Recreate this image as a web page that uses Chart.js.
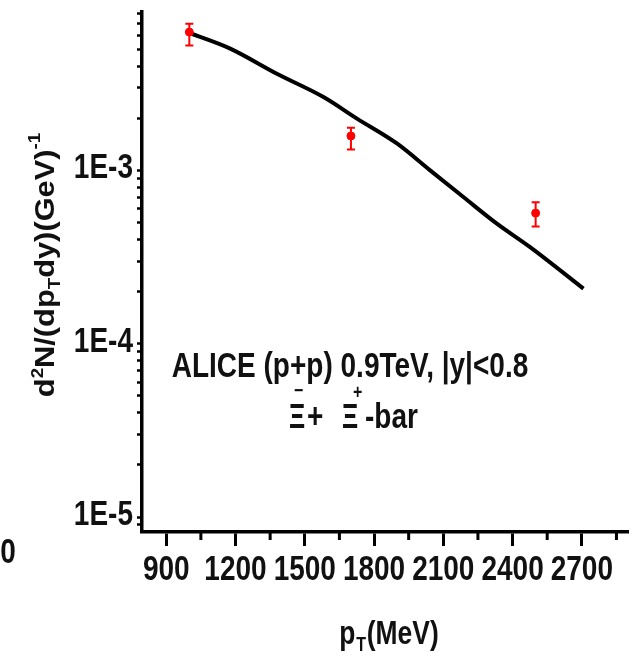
<!DOCTYPE html>
<html>
<head>
<meta charset="utf-8">
<script src="https://cdn.jsdelivr.net/npm/chart.js@4.4.1/dist/chart.umd.min.js"></script>
<style>
    html, body { margin: 0; padding: 0; background: #fff; }
    canvas { display: block; }
</style>
</head>
<body>
<canvas id="spectrumChart" width="634" height="658"></canvas>
<script>
// ALICE data points (pT in MeV) with upper / lower error bounds
const dataMeV = [1000, 1700, 2500];
const dataYield = [6.28e-3, 1.58e-3, 5.67e-4];
const dataErrHigh = [7.02e-3, 1.76e-3, 6.56e-4];
const dataErrLow = [5.26e-3, 1.32e-3, 4.75e-4];

// Model curve
const curveMeV = [1000, 1177, 1379, 1581, 1726, 1899, 2043, 2187, 2332, 2476, 2707];
const curveYield = [6.21e-3, 5.04e-3, 3.61e-3, 2.65e-3, 1.99e-3, 1.43e-3, 1.0e-3, 7.02e-4, 4.93e-4, 3.61e-4, 2.08e-4];

// Axis ticks
const xTickLabels = [900, 1200, 1500, 1800, 2100, 2400, 2700];
const xMinorTicks = [1050, 1350, 1650, 1950, 2250, 2550, 2850];
const yTickValues = [1e-3, 1e-4, 1e-5];
const yTickLabels = ["1E-3", "1E-4", "1E-5"];

// Arial-style bold squeezed horizontally to look like a narrow face
const FACE = "'Liberation Sans', Arial, sans-serif";
const SQUEEZE = 0.8;
const INK = "#111";

document.addEventListener("DOMContentLoaded", () => {
    const ctx = document.getElementById("spectrumChart");

    // Draws a run of text pieces (with sub/superscripts) on a baseline.
    // align: 0 = left edge at x, 0.5 = centred, 1 = right edge at x
    function drawPieces(c, pieces, x, y, align, sx) {
        c.save();
        c.translate(x, y);
        c.scale(sx, 1);
        let total = 0;
        pieces.forEach((p) => {
            c.font = p.font;
            p.w = c.measureText(p.t).width;
            total += p.w + (p.gap || 0);
        });
        let px = -total * align;
        pieces.forEach((p) => {
            c.font = p.font;
            c.fillText(p.t, px, p.dy || 0);
            px += p.w + (p.gap || 0);
        });
        c.restore();
    }

    const big = "bold 35px " + FACE;
    const mid = "bold 33px " + FACE;
    const small = "bold 20px " + FACE;

    const extrasPlugin = {
        id: "extras",
        afterDatasetsDraw(chart) {
            const c = chart.ctx;
            const xs = chart.scales.x;
            const ys = chart.scales.y;

            // error bars
            c.save();
            c.strokeStyle = "#ff0000";
            c.lineWidth = 2;
            dataMeV.forEach((v, i) => {
                const px = xs.getPixelForValue(v);
                const top = ys.getPixelForValue(dataErrHigh[i]);
                const bot = ys.getPixelForValue(dataErrLow[i]);
                c.beginPath();
                c.moveTo(px, top);
                c.lineTo(px, bot);
                c.moveTo(px - 4, top);
                c.lineTo(px + 4, top);
                c.moveTo(px - 4, bot);
                c.lineTo(px + 4, bot);
                c.stroke();
            });
            c.restore();
        },
        afterDraw(chart) {
            const c = chart.ctx;
            const xs = chart.scales.x;
            const ys = chart.scales.y;
            const area = chart.chartArea;

            // short minor ticks on the x axis
            c.save();
            c.strokeStyle = "#000";
            c.lineWidth = 3;
            xMinorTicks.forEach((v) => {
                const px = xs.getPixelForValue(v);
                c.beginPath();
                c.moveTo(px, area.bottom);
                c.lineTo(px, area.bottom + 8);
                c.stroke();
            });
            c.restore();

            c.save();
            c.fillStyle = INK;
            c.textBaseline = "alphabetic";
            c.textAlign = "left";

            // tick labels
            xTickLabels.forEach((v) => {
                drawPieces(c, [{ t: String(v), font: big }], xs.getPixelForValue(v), area.bottom + 48, 0.5, SQUEEZE);
            });
            yTickValues.forEach((v, i) => {
                drawPieces(c, [{ t: yTickLabels[i], font: big }], area.left - 9, ys.getPixelForValue(v) + 8, 1, SQUEEZE);
            });

            // annotation
            drawPieces(c, [{ t: "ALICE (p+p) 0.9TeV, |y|<0.8", font: big }], 350, 377, 0.5, SQUEEZE);
            drawPieces(c, [{ t: "\u039E", font: big }], 289, 428, 0, 0.72);
            drawPieces(c, [{ t: "\u2212", font: small }], 294, 397, 0, SQUEEZE);
            drawPieces(c, [{ t: "+", font: big }], 307, 428, 0, SQUEEZE);
            drawPieces(c, [{ t: "\u039E", font: big }], 342, 428, 0, 0.72);
            drawPieces(c, [{ t: "+", font: small }], 353, 399, 0, SQUEEZE);
            drawPieces(c, [{ t: "-bar", font: big }], 365, 428, 0, SQUEEZE);

            // x title
            drawPieces(c, [
                { t: "p", font: mid, gap: 1 },
                { t: "T", font: small, dy: 7, gap: 1 },
                { t: "(MeV)", font: mid },
            ], 389, 644, 0.5, SQUEEZE);

            // stray axis label at left
            drawPieces(c, [{ t: "0", font: big }], 8, 563, 0.5, SQUEEZE);

            // y title, rotated
            const ttl = "bold 28px " + FACE;
            const sub = "bold 17px " + FACE;
            c.translate(54, 265);
            c.rotate(-Math.PI / 2);
            drawPieces(c, [
                { t: "d", font: ttl },
                { t: "2", font: sub, dy: -11 },
                { t: "N/(dp", font: ttl },
                { t: "T", font: sub, dy: 6 },
                { t: "dy)(GeV)", font: ttl },
                { t: "-1", font: sub, dy: -14 },
            ], 0, 0, 0.5, 1.1);
            c.restore();
        },
    };

    const data = {
        datasets: [
            {
                label: "data",
                data: dataMeV.map((x, i) => ({ x, y: dataYield[i] })),
                backgroundColor: "#ff0000",
                borderColor: "#ff0000",
                pointRadius: 4,
                showLine: false,
                order: 0,
            },
            {
                label: "model",
                data: curveMeV.map((x, i) => ({ x, y: curveYield[i] })),
                borderColor: "#000",
                borderWidth: 4,
                pointRadius: 0,
                showLine: true,
                cubicInterpolationMode: "monotone",
                order: 1,
            },
        ],
    };

    const config = {
        type: "scatter",
        data,
        plugins: [extrasPlugin],
        options: {
            responsive: false,
            animation: false,
            devicePixelRatio: 1,
            layout: { padding: { top: 12, right: 6, left: 0, bottom: 0 } },
            plugins: { legend: { display: false }, tooltip: { enabled: false } },
            scales: {
                x: {
                    type: "linear",
                    min: 795,
                    max: 2900,
                    afterBuildTicks: (s) => {
                        s.ticks = xTickLabels.map((v) => ({ value: v }));
                    },
                    afterFit: (s) => { s.height = 126; },
                    ticks: { display: false },
                    grid: {
                        drawOnChartArea: false,
                        drawTicks: true,
                        tickLength: 14,
                        tickWidth: 3,
                        tickColor: "#000",
                    },
                    border: { display: true, color: "#000", width: 3.5 },
                },
                y: {
                    type: "logarithmic",
                    min: 8.2e-6,
                    max: 8.2e-3,
                    afterBuildTicks: (s) => {
                        const ticks = [];
                        [1e-6, 1e-5, 1e-4, 1e-3].forEach((dec) => {
                            for (let m = 1; m <= 9; m++) {
                                const v = parseFloat((m * dec).toPrecision(3));
                                if (v >= s.min && v <= s.max) ticks.push({ value: v });
                            }
                        });
                        s.ticks = ticks;
                    },
                    afterFit: (s) => { s.width = 142; },
                    ticks: { display: false },
                    grid: {
                        drawOnChartArea: false,
                        drawTicks: true,
                        tickLength: 5,
                        tickWidth: 2.5,
                        tickColor: "#000",
                    },
                    border: { display: true, color: "#000", width: 3.5 },
                },
            },
        },
    };

    new Chart(ctx, config);
});
</script>
</body>
</html>
